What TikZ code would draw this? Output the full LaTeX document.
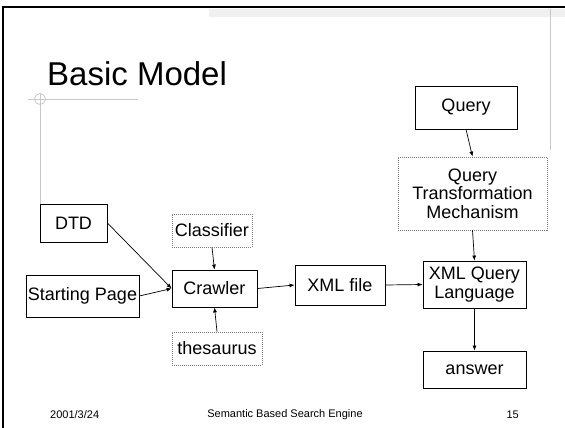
\documentclass[tikz,border=0pt]{standalone}
\usepackage{fontspec}
\setmainfont{Liberation Sans}
\usetikzlibrary{arrows.meta}
\definecolor{guide}{RGB}{200,200,200}
\definecolor{band}{RGB}{240,240,240}
\tikzset{
  box/.style={draw=black, line width=0.8pt, inner sep=0pt, align=center,
    font=\fontsize{18}{18.5}\selectfont},
  dbox/.style={box, draw=gray, dash pattern=on 1pt off 1pt},
  arr/.style={line width=0.7pt, -{Latex[length=5pt,width=4pt]}},
  foot/.style={font=\fontsize{11}{13}\selectfont, inner sep=0pt}
}
\begin{document}
\begin{tikzpicture}[x=1pt,y=-1pt]
\useasboundingbox (0,0) rectangle (565,428);
% frame
\fill[band] (209,9) rectangle (565,17);
\draw[guide, line width=0.8pt] (550,9) -- (550,150);
\draw[black, line width=2.2pt] (3,428) -- (3,7) -- (565,7);
% title
\node[anchor=base west, inner sep=0pt, font=\fontsize{33}{36}\selectfont] (title) at (47,85) {Basic Model};
% guide
\draw[guide, line width=0.8pt] (28,99) -- (138,99);
\draw[guide, line width=0.8pt] (40,99) circle (5.5);
\draw[guide, line width=0.8pt] (40,93.5) -- (40,204);
% nodes
\node[box, minimum width=102, minimum height=43] (query) at (466,107.5) {Query};
\node[dbox, minimum width=149, minimum height=73] (qtm) at (472.5,193.5) {Query\\Transformation\\Mechanism};
\node[box, minimum width=67, minimum height=38] (dtd) at (73.5,223) {DTD};
\node[box, minimum width=113, minimum height=42] (start) at (82.5,296) {Starting Page};
\node[box, minimum width=85, minimum height=37] (crawler) at (214.5,288.5) {Crawler};
\node[dbox, minimum width=80, minimum height=33] (classifier) at (212,230.5) {Classifier};
\node[dbox, minimum width=90, minimum height=33] (thes) at (217,348.5) {thesaurus};
\node[box, minimum width=90, minimum height=40] (xml) at (340,285) {XML file};
\node[box, minimum width=103, minimum height=47] (xql) at (474.5,284.5) {XML Query\\Language};
\node[box, minimum width=103, minimum height=37] (answer) at (474.5,369.5) {answer};
% arrows
\draw[arr] (query.south) -- (qtm.north);
\draw[arr] (qtm.south) -- (xql.north);
\draw[arr] (xql.south) -- (answer.north);
\draw[arr] (xml.east) -- (xql.west);
\draw[arr] (crawler.east) -- (xml.west);
\draw[arr] (dtd.east) -- (crawler.west);
\draw[arr] (start.east) -- (crawler.west);
\draw[arr] (classifier.south) -- (crawler.north);
\draw[arr] (thes.north) -- (crawler.south);
% footer
\node[foot, anchor=west] (date) at (50,415) {2001/3/24};
\node[foot] (ftitle) at (285,415) {Semantic Based Search Engine};
\node[foot, anchor=east] (page) at (519,415) {15};
\end{tikzpicture}
\end{document}
